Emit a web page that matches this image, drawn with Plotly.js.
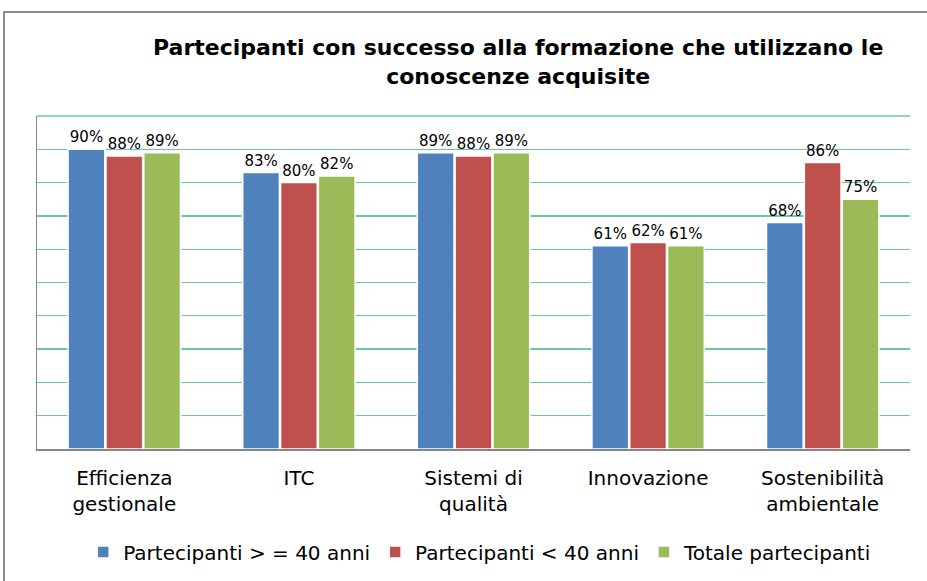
<!DOCTYPE html>
<html>
<head>
<meta charset="utf-8">
<script src="https://cdn.plot.ly/plotly-3.0.1.min.js"></script>
<style>
  html, body { margin: 0; padding: 0; background: #ffffff; }
  #wrap { position: relative; width: 927px; height: 581px; overflow: hidden; }
  #frame { position: absolute; left: 3px; top: 11px; width: 960px; height: 620px; border: 2px solid #8c8c8c; box-sizing: border-box; }
  #chart { position: absolute; left: 0; top: 0; width: 927px; height: 581px; }
</style>
</head>
<body>
<div id="wrap">
  <div id="frame"></div>
  <div id="chart"></div>
</div>
<script>
const categories = ["Efficienza<br>gestionale", "ITC", "Sistemi di<br>qualità", "Innovazione", "Sostenibilità<br>ambientale"];
const seriesNames = ["Partecipanti > = 40 anni", "Partecipanti < 40 anni", "Totale partecipanti"];
const over40 = [90, 83, 89, 61, 68];
const under40 = [88, 80, 88, 62, 86];
const totale = [89, 82, 89, 61, 75];
const colors = ["#4f81bd", "#c0504d", "#9bbb59"];

const seriesValues = [over40, under40, totale];
const traces = seriesValues.map((vals, i) => ({
  type: "bar",
  name: seriesNames[i],
  x: categories,
  y: vals,
  text: vals.map(v => v + "%"),
  textposition: "outside",
  textfont: { family: "DejaVu Sans", size: 15, color: "#000000" },
  cliponaxis: false,
  marker: { color: colors[i], line: { color: "#ffffff", width: 1.5 } },
  hoverinfo: "none"
}));

const layout = {
  width: 927,
  height: 581,
  paper_bgcolor: "rgba(0,0,0,0)",
  plot_bgcolor: "rgba(0,0,0,0)",
  margin: { l: 37, r: 17, t: 116, b: 132 },
  barmode: "group",
  bargap: 0.35,
  bargroupgap: 0.03,
  title: {
    text: "<b>Partecipanti con successo alla formazione che utilizzano le<br>conoscenze acquisite</b>",
    font: { family: "DejaVu Sans", size: 22, color: "#000000" },
    xref: "container", yref: "container",
    x: 0.559, xanchor: "center",
    y: 0.905, yanchor: "middle"
  },
  xaxis: {
    automargin: false,
    tickfont: { family: "DejaVu Sans", size: 20, color: "#000000" },
    ticklabelstandoff: 10,
    showline: true, linecolor: "#868686", linewidth: 1.5,
    ticks: "", showgrid: false
  },
  yaxis: {
    automargin: false,
    range: [0, 100], dtick: 10,
    showticklabels: false,
    showgrid: true, gridcolor: "#66cc99", gridwidth: 1.3,
    showline: true, linecolor: "#868686", linewidth: 1,
    zeroline: false, ticks: ""
  },
  showlegend: true,
  legend: {
    orientation: "h",
    xref: "container", yref: "container",
    x: 0.518, xanchor: "center",
    y: 0.05, yanchor: "middle",
    font: { family: "DejaVu Sans", size: 20, color: "#000000" },
    itemwidth: 30,
    tracegroupgap: 0
  },
  shapes: [
    { type: "line", xref: "paper", yref: "paper", x0: 0, x1: 1, y0: 1, y1: 1, line: { color: "#66cc99", width: 1.3 }, layer: "below" }
  ]
};

Plotly.newPlot("chart", traces, layout, { displayModeBar: false, staticPlot: true });
</script>
</body>
</html>
